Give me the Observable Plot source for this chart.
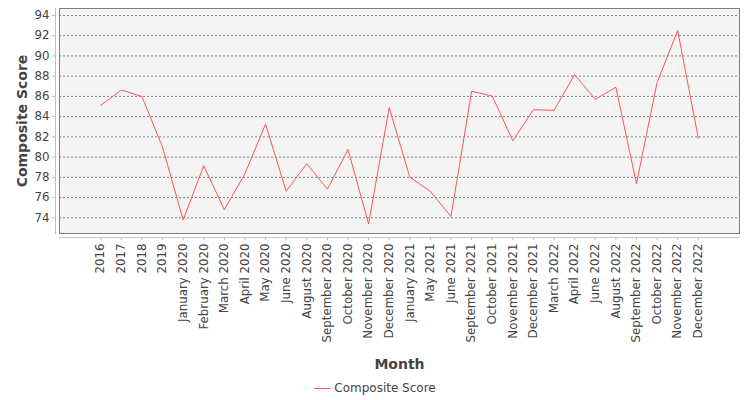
<!DOCTYPE html>
<html><head><meta charset="utf-8">
<script src="https://cdn.jsdelivr.net/npm/d3@7"></script>
<script src="https://cdn.jsdelivr.net/npm/@observablehq/plot@0.6"></script>
<style>
body{margin:0;background:#fff;font-family:"DejaVu Sans",sans-serif;}
#legend{height:26px;display:flex;align-items:center;justify-content:center;font-size:12px;color:#444;}
#legend .sw{display:inline-block;width:16px;height:1px;background:#ff5555;margin-right:4px;}
</style></head><body><div id="chart"></div><div id="legend"><span class="sw"></span><span>Composite Score</span></div>
<script>
const months = ["2016","2017","2018","2019","January 2020","February 2020","March 2020","April 2020","May 2020","June 2020","August 2020","September 2020","October 2020","November 2020","December 2020","January 2021","May 2021","June 2021","September 2021","October 2021","November 2021","December 2021","March 2022","April 2022","June 2022","August 2022","September 2022","October 2022","November 2022","December 2022"];
const scores = [85.12,86.63,86.0,80.99,73.8,79.15,74.8,78.36,83.27,76.63,79.35,76.83,80.76,73.4,84.89,78.02,76.6,74.13,86.5,86.04,81.62,84.69,84.62,88.16,85.71,86.9,77.37,87.37,92.51,81.88];
const yTicks = [74,76,78,80,82,84,86,88,90,92,94];
const data = months.map((m,i)=>({month:m, score:scores[i]}));
const plot = Plot.plot({
  width:750, height:375, marginLeft:59, marginRight:11, marginTop:8, marginBottom:142,
  style:{fontFamily:"DejaVu Sans", fontSize:"11.8px", color:"#444", background:"#fff"},
  x:{type:"point", domain:months, padding:2, round:false},
  y:{domain:[72.45,94.69]},
  marks:[
    Plot.frame({fill:"#f4f4f4"}),
    Plot.gridY(yTicks,{stroke:"#808080", strokeOpacity:1, strokeDasharray:"2,2"}),
    Plot.line(data,{x:"month", y:"score", stroke:"#ff5555", strokeWidth:1}),
    Plot.frame({stroke:"#808080"}),
    Plot.frame({anchor:"left", dx:-4, stroke:"#c0c0c0"}),
    Plot.frame({anchor:"bottom", dy:4, stroke:"#c0c0c0"}),
    Plot.axisY(yTicks,{tickSize:3, dx:-4, tickPadding:3, stroke:"#c0c0c0", fill:"#444", label:null}),
    Plot.axisX({tickSize:3, dy:4, tickRotate:-90, tickPadding:3, stroke:"#c0c0c0", fill:"#444", label:null}),
    Plot.text(["Month"],{frameAnchor:"bottom", dy:135, text:d=>d, fontWeight:"bold", fontSize:14, fill:"#444"}),
    Plot.text(["Composite Score"],{frameAnchor:"left", dx:-37, rotate:-90, textAnchor:"middle", text:d=>d, fontWeight:"bold", fontSize:14, fill:"#444"})
  ]
});
document.getElementById("chart").appendChild(plot);
</script></body></html>
